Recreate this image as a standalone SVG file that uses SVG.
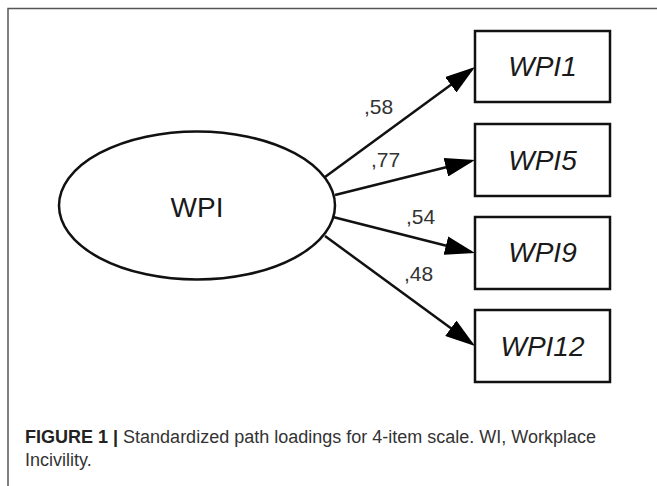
<svg xmlns="http://www.w3.org/2000/svg" width="657" height="486" viewBox="0 0 657 486">
  <style>
    .frame { stroke: #555; stroke-width: 1.5; fill: none; }
    .node { fill: #fff; stroke: #111; stroke-width: 2.5; }
    .lbl { font-family: "Liberation Sans", Arial, sans-serif; font-size: 28px; fill: #1a1a1a; text-anchor: middle; }
    .ital { font-style: italic; }
    .edge { stroke: #111; stroke-width: 2.5; fill: none; marker-end: url(#arrow); }
    .coef { font-family: "Liberation Sans", Arial, sans-serif; font-size: 21px; fill: #333; }
    .cap { font-family: "Liberation Sans", Arial, sans-serif; font-size: 18px; fill: #333; }
  </style>
  <defs>
    <marker id="arrow" markerUnits="userSpaceOnUse" markerWidth="30" markerHeight="19" refX="26" refY="9.5" orient="auto" viewBox="0 0 30 19">
      <path d="M0,0 L30,9.5 L0,19 z" fill="#000"/>
    </marker>
  </defs>
  <rect width="657" height="486" fill="#fff"/>
  <g id="frame">
    <path class="frame" d="M8,486 L8,8.5 L657,8.5"/>
  </g>
  <g id="connectors">
    <line class="edge" x1="325" y1="177" x2="471.8" y2="69.4"/>
    <line class="edge" x1="335" y1="195" x2="471.1" y2="161"/>
    <line class="edge" x1="333" y1="217" x2="471.1" y2="252"/>
    <line class="edge" x1="325" y1="236" x2="471.8" y2="343.6"/>
    <text class="coef" x="364" y="114">,58</text>
    <text class="coef" x="371" y="167">,77</text>
    <text class="coef" x="406" y="224">,54</text>
    <text class="coef" x="404" y="281">,48</text>
  </g>
  <g id="node-WPI">
    <ellipse class="node" cx="197" cy="205.5" rx="138" ry="74"/>
    <text class="lbl" x="197" y="216.5">WPI</text>
  </g>
  <g id="node-WPI1">
    <rect class="node" x="475" y="31" width="135" height="71"/>
    <text class="lbl ital" x="542.5" y="76">WPI1</text>
  </g>
  <g id="node-WPI5">
    <rect class="node" x="475" y="124" width="135" height="72"/>
    <text class="lbl ital" x="542.5" y="169.5">WPI5</text>
  </g>
  <g id="node-WPI9">
    <rect class="node" x="475" y="217" width="135" height="72"/>
    <text class="lbl ital" x="542.5" y="262">WPI9</text>
  </g>
  <g id="node-WPI12">
    <rect class="node" x="475" y="310" width="135" height="72"/>
    <text class="lbl ital" x="542.5" y="356">WPI12</text>
  </g>
  <g id="caption">
    <text class="cap" x="25" y="443"><tspan font-weight="bold" fill="#222">FIGURE 1</tspan> <tspan font-weight="bold" fill="#222">|</tspan> Standardized path loadings for 4-item scale. WI, Workplace</text>
    <text class="cap" x="25" y="466">Incivility.</text>
  </g>
</svg>
